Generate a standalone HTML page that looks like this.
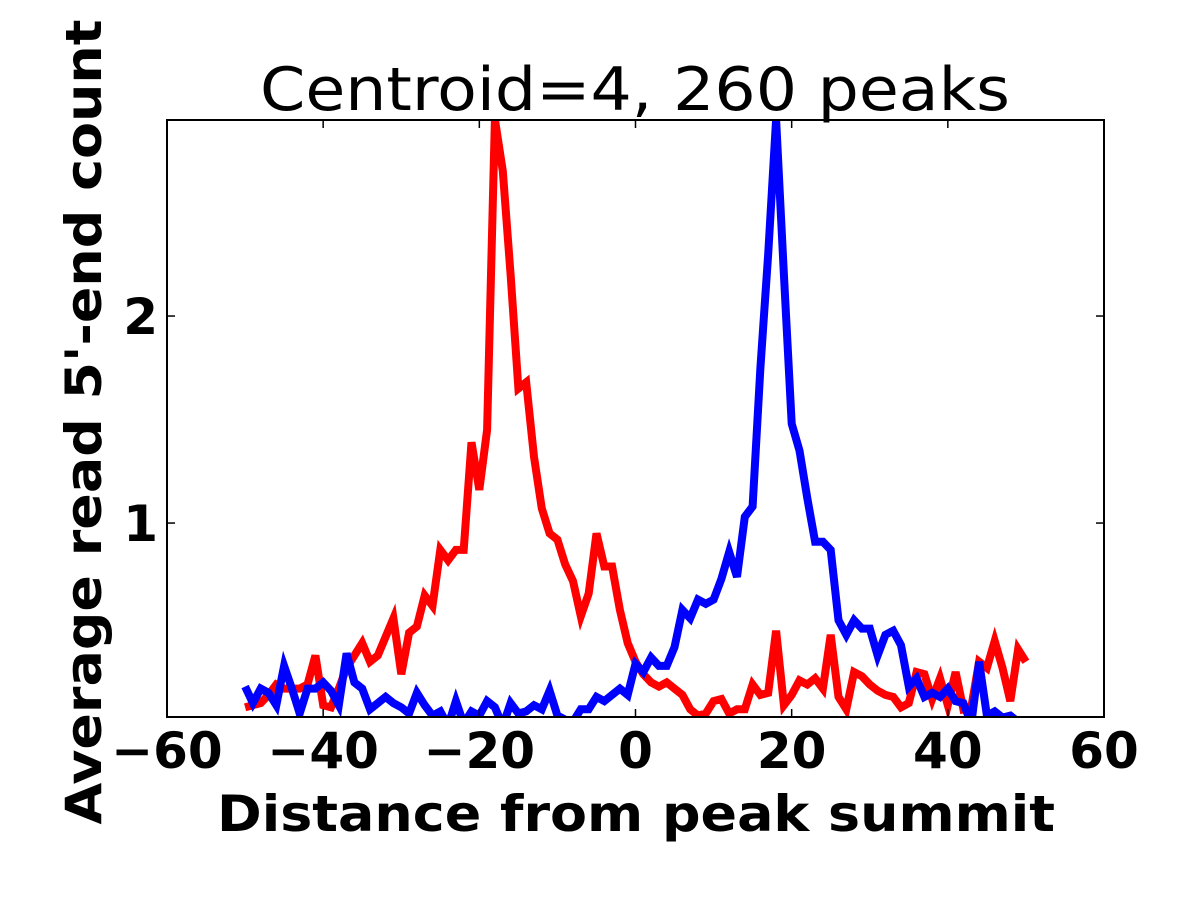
<!DOCTYPE html>
<html><head><meta charset="utf-8"><style>
html,body{margin:0;padding:0;background:#fff;}
svg text{font-family:"DejaVu Sans","Liberation Sans",sans-serif;}
</style></head><body>
<svg id="chart" width="1200" height="900" xmlns="http://www.w3.org/2000/svg">
<defs><clipPath id="pc"><rect x="167" y="120" width="937" height="597"/></clipPath></defs>
<text x="635" y="110" text-anchor="middle" font-size="60" textLength="750" lengthAdjust="spacingAndGlyphs">Centroid=4, 260 peaks</text>
<g id="series" clip-path="url(#pc)"></g>
<rect x="167" y="120" width="937" height="597" fill="none" stroke="#000" stroke-width="2"/>
<g id="ticks"></g>
<text x="636" y="831" text-anchor="middle" font-size="50" font-weight="bold" textLength="838" lengthAdjust="spacingAndGlyphs">Distance from peak summit</text>
<text transform="translate(101,422) rotate(-90)" text-anchor="middle" font-size="50" font-weight="bold" textLength="805" lengthAdjust="spacingAndGlyphs">Average read 5'-end count</text>
</svg>
<script>
const positions = [-50,-49,-48,-47,-46,-45,-44,-43,-42,-41,-40,-39,-38,-37,-36,-35,-34,-33,-32,-31,-30,-29,-28,-27,-26,-25,-24,-23,-22,-21,-20,-19,-18,-17,-16,-15,-14,-13,-12,-11,-10,-9,-8,-7,-6,-5,-4,-3,-2,-1,0,1,2,3,4,5,6,7,8,9,10,11,12,13,14,15,16,17,18,19,20,21,22,23,24,25,26,27,28,29,30,31,32,33,34,35,36,37,38,39,40,41,42,43,44,45,46,47,48,49,50];
const redValues = [0.11,0.12,0.13,0.17,0.22,0.2,0.2,0.2,0.22,0.36,0.12,0.11,0.2,0.3,0.36,0.42,0.33,0.36,0.45,0.54,0.27,0.47,0.5,0.65,0.6,0.87,0.82,0.87,0.87,1.39,1.16,1.45,2.95,2.7,2.2,1.65,1.68,1.32,1.07,0.95,0.92,0.8,0.72,0.55,0.66,0.95,0.79,0.79,0.58,0.42,0.33,0.27,0.23,0.21,0.23,0.2,0.17,0.1,0.07,0.08,0.14,0.15,0.08,0.1,0.1,0.22,0.17,0.18,0.48,0.12,0.17,0.24,0.22,0.25,0.2,0.46,0.16,0.1,0.28,0.26,0.22,0.19,0.17,0.16,0.11,0.13,0.28,0.27,0.15,0.25,0.12,0.28,0.1,0.11,0.33,0.3,0.43,0.3,0.14,0.39,0.33];
const blueValues = [0.21,0.13,0.2,0.18,0.12,0.31,0.2,0.08,0.2,0.2,0.23,0.19,0.12,0.37,0.23,0.2,0.1,0.13,0.16,0.13,0.11,0.08,0.18,0.12,0.07,0.09,0.02,0.14,0.03,0.09,0.07,0.14,0.11,0.02,0.13,0.08,0.09,0.12,0.1,0.19,0.07,0.05,0.04,0.1,0.1,0.16,0.14,0.17,0.2,0.17,0.32,0.28,0.35,0.31,0.31,0.4,0.58,0.54,0.63,0.61,0.63,0.73,0.86,0.74,1.03,1.08,1.75,2.3,2.95,2.2,1.48,1.35,1.12,0.91,0.91,0.87,0.53,0.46,0.53,0.49,0.49,0.36,0.46,0.48,0.41,0.21,0.25,0.16,0.18,0.16,0.2,0.14,0.13,0.03,0.33,0.07,0.09,0.06,0.07,0.04,0.05];
const xTicks = [-60,-40,-20,0,20,40,60];
const xTickLabels = ["\u221260","\u221240","\u221220","0","20","40","60"];
const yTicks = [1,2];
const yTickLabels = ["1","2"];
const NS="http://www.w3.org/2000/svg";
const X0=167,X1=1104,Y0=120,Y1=717,XMIN=-60,XMAX=60,YMIN=0.063,YMAX=2.947;
function sx(v){return X0+(v-XMIN)/(XMAX-XMIN)*(X1-X0);}
function sy(v){return Y1-(v-YMIN)/(YMAX-YMIN)*(Y1-Y0);}
const series=document.getElementById('series');
function drawLine(vals,color,name){
  const p=document.createElementNS(NS,'polyline');
  p.setAttribute('points',vals.map((v,i)=>sx(positions[i]).toFixed(1)+','+sy(v).toFixed(1)).join(' '));
  p.setAttribute('fill','none');p.setAttribute('stroke',color);p.setAttribute('stroke-width','8');
  p.setAttribute('stroke-linejoin','miter');
  
  
  series.appendChild(p);
}
drawLine(redValues,'#ff0000','red-series-line');
drawLine(blueValues,'#0000ff','blue-series-line');
const tg=document.getElementById('ticks');
xTicks.forEach((t,i)=>{
  const x=sx(t);
  [[Y1,Y1-8],[Y0,Y0+8]].forEach(([a,b])=>{
    const l=document.createElementNS(NS,'line');
    l.setAttribute('x1',x);l.setAttribute('x2',x);l.setAttribute('y1',a);l.setAttribute('y2',b);
    l.setAttribute('stroke','#000');l.setAttribute('stroke-width','1.5');
    
    
    tg.appendChild(l);
  });
  const tx=document.createElementNS(NS,'text');
  tx.setAttribute('x',x);tx.setAttribute('y',768);tx.setAttribute('text-anchor','middle');
  tx.setAttribute('font-size','50');tx.setAttribute('font-weight','bold');
  tx.textContent=xTickLabels[i];
  
  
  tg.appendChild(tx);
});
yTicks.forEach((t,i)=>{
  const y=sy(t);
  [[X0,X0+8],[X1,X1-8]].forEach(([a,b])=>{
    const l=document.createElementNS(NS,'line');
    l.setAttribute('x1',a);l.setAttribute('x2',b);l.setAttribute('y1',y);l.setAttribute('y2',y);
    l.setAttribute('stroke','#000');l.setAttribute('stroke-width','1.5');
    
    
    tg.appendChild(l);
  });
  const tx=document.createElementNS(NS,'text');
  tx.setAttribute('x',158);tx.setAttribute('y',y+18);tx.setAttribute('text-anchor','end');
  tx.setAttribute('font-size','50');tx.setAttribute('font-weight','bold');
  tx.textContent=yTickLabels[i];
  
  
  tg.appendChild(tx);
});
</script>
</body></html>
